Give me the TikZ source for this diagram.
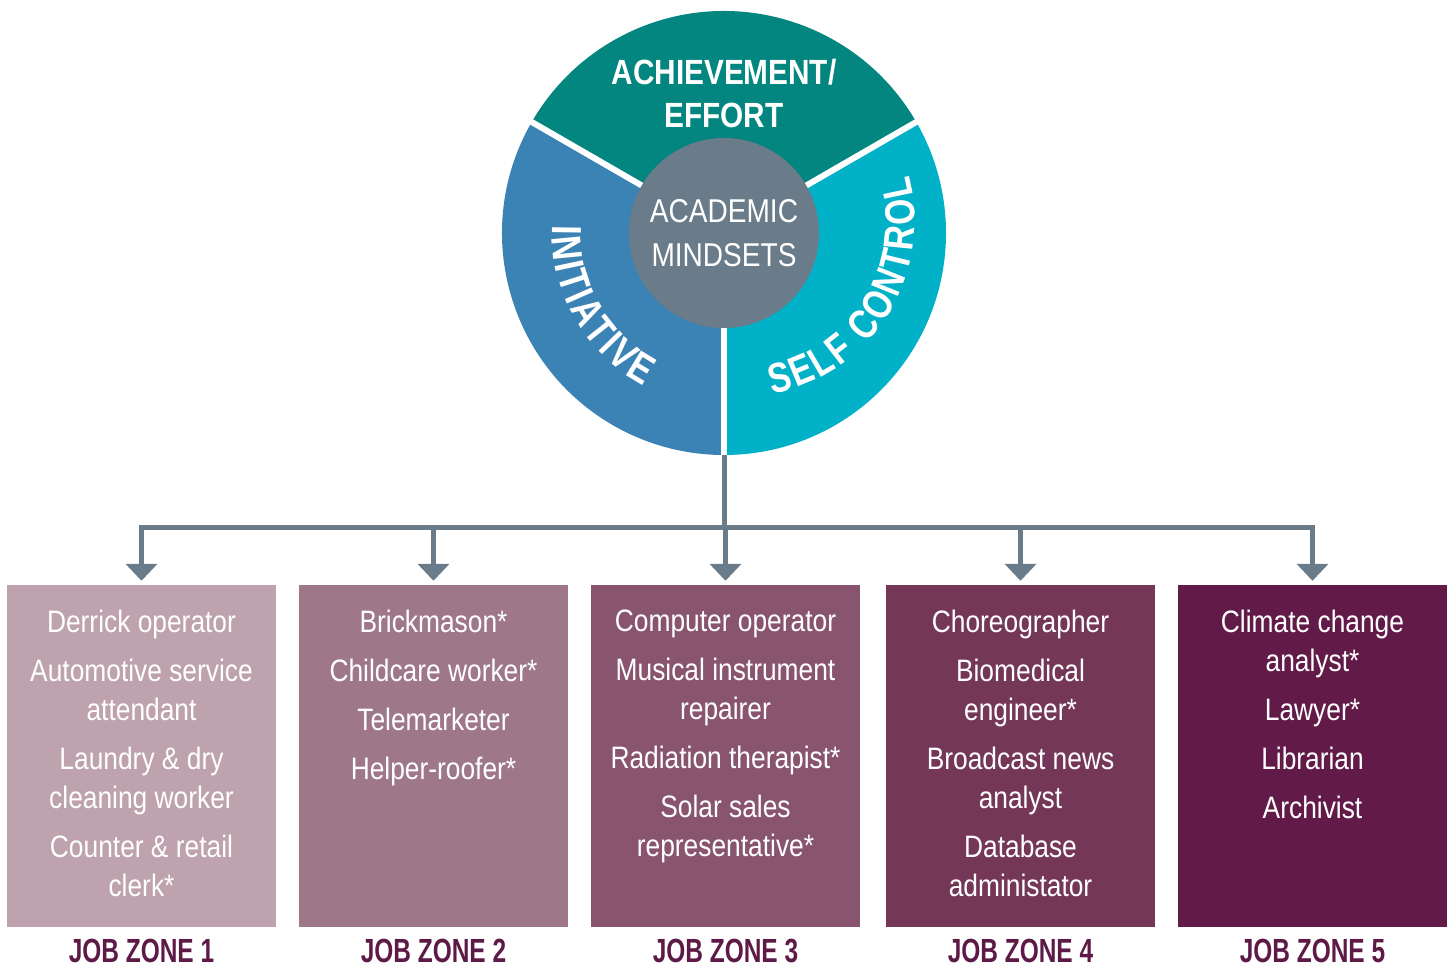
\documentclass[tikz,border=0pt]{standalone}
\usepackage{fontspec}
\setmainfont{Liberation Sans}[FakeStretch=0.85]
\newfontfamily\zonefont{Liberation Sans}[FakeStretch=0.73]
\newfontfamily\ringfont{Liberation Sans}[FakeStretch=0.8]
\usetikzlibrary{positioning,arrows.meta}

\definecolor{achieveteal}{HTML}{038580}
\definecolor{initblue}{HTML}{3C83B5}
\definecolor{selfcyan}{HTML}{00B1C8}
\definecolor{hubgray}{HTML}{6A7C89}
\definecolor{zoneA}{HTML}{BEA2AD}
\definecolor{zoneB}{HTML}{9E7789}
\definecolor{zoneC}{HTML}{88546E}
\definecolor{zoneD}{HTML}{743758}
\definecolor{zoneE}{HTML}{621B48}
\definecolor{zonetitle}{HTML}{5E1A46}

\begin{document}
\begin{tikzpicture}[x=1pt,y=1pt,
  zonebox/.style={rectangle, minimum width=269pt, minimum height=342pt, inner sep=0pt},
  jobs/.style={align=center, inner sep=0pt, text=white, font=\fontsize{31}{39}\selectfont},
  zonelabel/.style={inner sep=0pt, text=zonetitle, font=\zonefont\bfseries\fontsize{33.5}{40}\selectfont},
  hub/.style={circle, fill=hubgray, minimum size=190pt, inner sep=0pt, align=center, text=white, font=\fontsize{33}{44}\selectfont},
  ringlabel/.style={align=center, inner sep=0pt, text=white, font=\bfseries\fontsize{35}{43}\selectfont},
  ringletter/.style={anchor=base, inner sep=0pt, text=white, font=\ringfont\bfseries\fontsize{42}{42}\selectfont},
  divider/.style={white, line width=6pt},
  link/.style={hubgray, line width=5pt},
  bus/.style={link, line cap=rect}
]
\useasboundingbox (0,0) rectangle (1450,-966);
\fill[white] (0,0) rectangle (1450,-966);

%Rad
\coordinate (c) at (724,-233);
\coordinate (c2) at (740,-222);
\node[circle, minimum size=444pt, inner sep=0pt] (wheel) at (c) {};
\fill[achieveteal] (c) -- ++(30:222) arc[start angle=30, end angle=150, radius=222] -- cycle;
\fill[initblue] (c) -- ++(150:222) arc[start angle=150, end angle=270, radius=222] -- cycle;
\fill[selfcyan] (c) -- ++(270:222) arc[start angle=270, end angle=390, radius=222] -- cycle;
\foreach \a in {30,150,270}
{
	\draw[divider] (c) -- ++(\a:224);
}
\node[hub] (hub) at (c) {ACADEMIC\\MINDSETS};
\node[ringlabel, above=10pt of hub] (achieve) {ACHIEVEMENT/\\EFFORT};

%Initiative
\foreach \ch/\a [count=\k] in
{
I/179.2,
N/185.6,
I/192.05,
T/197.86,
I/203.67,
A/210.1,
T/218.39,
I/224.2,
V/230.32,
E/238.62
}
{
	\node[ringletter, rotate=\a+90] (init\k) at ([shift={(\a:172)}]c) {\ch};
}

%Self control
\foreach \ch/\a [count=\k] in
{
S/284.39,
E/292.55,
L/300.39,
F/307.93,
C/319.96,
O/329.03,
N/338.1,
T/346.25,
R/354.4,
O/363.47,
L/371.93
}
{
	\node[ringletter, rotate=\a+90] (self\k) at ([shift={(\a:175)}]c2) {\ch};
}

%Job Zones
\foreach \i/\x/\col in
{
1/141.5/zoneA,
2/433.5/zoneB,
3/725.5/zoneC,
4/1020.5/zoneD,
5/1312.5/zoneE%
}
{
	\node[zonebox, fill=\col] (zone\i) at (\x,-756) {};
	\node[zonelabel, below=12pt of zone\i] (title\i) {JOB ZONE \i};
}

\node[jobs, below=25pt of zone1.north] (jobs1) {Derrick operator\\[10pt]Automotive service\\attendant\\[10pt]Laundry \& dry\\cleaning worker\\[10pt]Counter \& retail\\clerk*};
\node[jobs, below=25pt of zone2.north] (jobs2) {Brickmason*\\[10pt]Childcare worker*\\[10pt]Telemarketer\\[10pt]Helper-roofer*};
\node[jobs, below=25pt of zone3.north] (jobs3) {Computer operator\\[10pt]Musical instrument\\repairer\\[10pt]Radiation therapist*\\[10pt]Solar sales\\representative*};
\node[jobs, below=25pt of zone4.north] (jobs4) {Choreographer\\[10pt]Biomedical\\engineer*\\[10pt]Broadcast news\\analyst\\[10pt]Database\\administator};
\node[jobs, below=25pt of zone5.north] (jobs5) {Climate change\\analyst*\\[10pt]Lawyer*\\[10pt]Librarian\\[10pt]Archivist};

%Verbindungen
\coordinate (bus) at (0,-527.5);
\draw[link] (wheel.south) -- (wheel.south |- bus);
\draw[bus] (zone1.north |- bus) -- (zone5.north |- bus);
\foreach \i in {1,...,5}
{
	\draw[link, -{Triangle[width=31pt,length=17pt]}, shorten >=4pt] (zone\i.north |- bus) -- (zone\i.north);
}

\end{tikzpicture}
\end{document}
